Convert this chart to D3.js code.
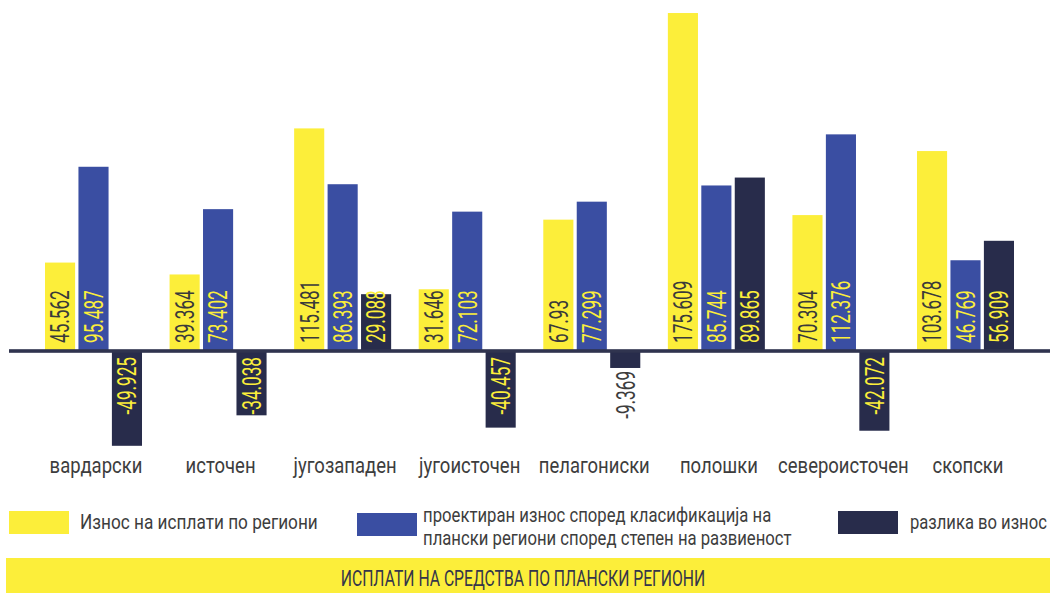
<!DOCTYPE html>
<html>
<head>
<meta charset="utf-8">
<script src="https://cdn.jsdelivr.net/npm/d3@7"></script>
<style>
  html, body { margin: 0; padding: 0; background: #fff; }
  svg { display: block; }
  text { font-family: Roboto, "Noto Sans", sans-serif; }
</style>
</head>
<body>
<svg id="chart" width="1050" height="593"></svg>
<script>
// ---- data ----
const regions = ["вардарски", "источен", "југозападен", "југоисточен", "пелагониски", "полошки", "североисточен", "скопски"];
const paid = [45.562, 39.364, 115.481, 31.646, 67.93, 175.609, 70.304, 103.678];
const projected = [95.487, 73.402, 86.393, 72.103, 77.299, 85.744, 112.376, 46.769];
const difference = [-49.925, -34.038, 29.088, -40.457, -9.369, 89.865, -42.072, 56.909];
const seriesKeys = ["paid", "projected", "difference"];
const seriesNames = [
  ["Износ на исплати по региони"],
  ["проектиран износ според класификација на", "плански региони според степен на развиеност"],
  ["разлика во износ"]
];
const title = "ИСПЛАТИ НА СРЕДСТВА ПО ПЛАНСКИ РЕГИОНИ";

const colors = { paid: "#fcee3a", projected: "#3a4ea2", difference: "#282c4b" };
const labelColors = { paid: "#3a3a3a", projected: "#fcee3a", difference: "#fcee3a" };
const textGrey = "#3d3d3d";

const seriesData = { paid, projected, difference };
const rows = regions.map((r, i) => ({ region: r, values: seriesKeys.map(k => ({ key: k, value: seriesData[k][i] })) }));

const svg = d3.select("#chart");

// ---- scales ----
const x0 = d3.scaleBand().domain(regions).range([45, 1014]).paddingInner(0.2213).paddingOuter(0);
const x1 = d3.scaleBand().domain(seriesKeys).range([0, x0.bandwidth()]).paddingInner(0.1).paddingOuter(0);
const y = d3.scaleLinear().domain([0, 180]).range([350, 4.6]);

// ---- bars ----
const groups = svg.append("g").selectAll("g")
  .data(rows).join("g")
  .attr("transform", d => `translate(${x0(d.region)},0)`);

groups.selectAll("rect")
  .data(d => d.values).join("rect")
  .attr("x", d => x1(d.key))
  .attr("width", x1.bandwidth())
  .attr("y", d => d.value >= 0 ? y(d.value) : y(0))
  .attr("height", d => Math.abs(y(d.value) - y(0)))
  .attr("fill", d => colors[d.key]);

// ---- axis baseline ----
svg.append("rect")
  .attr("x", 9).attr("width", 1041)
  .attr("y", y(0) - 0.8).attr("height", 3.6)
  .attr("fill", "#30344f");

// ---- value labels ----
const sx = 0.66;
groups.selectAll("text.val")
  .data(d => d.values).join("text")
  .attr("class", "val")
  .attr("font-size", 26)
  .attr("y", 9.3)
  .attr("transform", d => {
    const cx = x1(d.key) + x1.bandwidth() / 2;
    const barLen = Math.abs(y(d.value) - y(0));
    let py;
    if (d.value >= 0) py = y(0) - 7;
    else if (barLen > 60) py = y(0) + 7;
    else py = y(d.value) + 3;
    return `translate(${cx},${py}) rotate(-90) scale(${sx},1)`;
  })
  .attr("text-anchor", d => d.value >= 0 ? "start" : "end")
  .attr("fill", d => {
    const barLen = Math.abs(y(d.value) - y(0));
    return (d.value < 0 && barLen <= 60) ? textGrey : labelColors[d.key];
  })
  .text(d => d.value);

// ---- category labels ----
const catScale = 0.86;
svg.append("g").selectAll("text")
  .data(regions).join("text")
  .attr("transform", d => `translate(${x0(d) + x0.bandwidth() / 2 + 2.5},472.5) scale(${catScale},1)`)
  .attr("text-anchor", "middle")
  .attr("font-size", 21.5)
  .attr("fill", textGrey)
  .text(d => d);

// ---- legend ----
const legendPos = [
  { sx: 9, sy: 511, tx: 80, ty: [529], sc: 0.84, fs: 20.5 },
  { sx: 357, sy: 513, tx: 423, ty: [521.5, 544.5], sc: 0.857, fs: 19.5 },
  { sx: 838, sy: 511, tx: 910, ty: [528.5], sc: 0.81, fs: 20.5 }
];
const leg = svg.append("g").selectAll("g")
  .data(seriesKeys).join("g");
leg.append("rect")
  .attr("x", (d, i) => legendPos[i].sx)
  .attr("y", (d, i) => legendPos[i].sy)
  .attr("width", 60).attr("height", 23)
  .attr("fill", d => colors[d]);
leg.each(function(d, i) {
  const g = d3.select(this);
  seriesNames[i].forEach((line, j) => {
    const t = g.append("text")
      .attr("font-size", legendPos[i].fs)
      .attr("fill", textGrey)
      .text(line);
    let sc = legendPos[i].sc;
    const len = t.node().getComputedTextLength();
    // keep text inside the picture
    if (legendPos[i].tx + len * sc > 1048) sc = (1048 - legendPos[i].tx) / len;
    t.attr("transform", `translate(${legendPos[i].tx},${legendPos[i].ty[j]}) scale(${sc},1)`);
  });
});

// ---- bottom banner ----
svg.append("rect")
  .attr("x", 6).attr("y", 558).attr("width", 1044).attr("height", 35)
  .attr("fill", colors.paid);
svg.append("text")
  .attr("transform", `translate(523,586) scale(0.715,1)`)
  .attr("text-anchor", "middle")
  .attr("font-size", 22)
  .attr("fill", "#35364a")
  .text(title);
</script>
</body>
</html>
